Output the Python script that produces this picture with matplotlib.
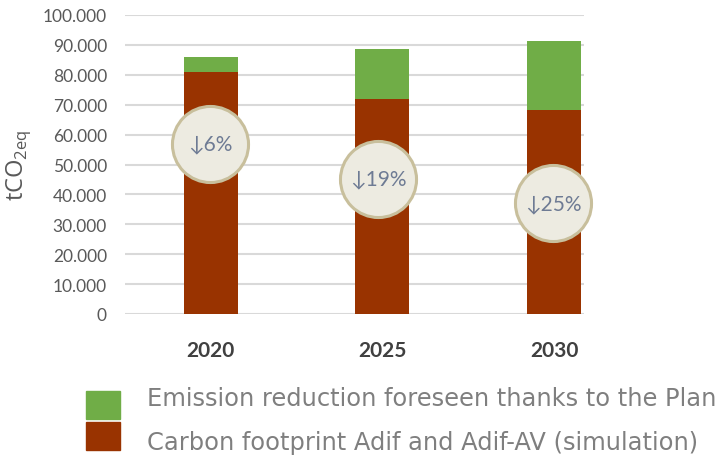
import numpy as np
import matplotlib
matplotlib.use('Agg')
import matplotlib.pyplot as plt
from matplotlib.patches import Rectangle
from matplotlib.ticker import FuncFormatter

# emissions in tCO2eq per year
years = ['2020', '2025', '2030']
footprint = [80800, 71800, 68300]
reduction = [5300, 16900, 23000]
reduction_pct = ['6%', '19%', '25%']
badge_y = [56900, 45200, 37100]
badge_shift = [-0.005, -0.025, -0.005]
legend_labels = ['Emission reduction foreseen thanks to the Plan',
                 'Carbon footprint Adif and Adif-AV (simulation)']

GREEN = '#70AD47'
BROWN = '#993300'
GRID = '#D9D9D9'
TICK = '#595959'

W, H = 720, 456


def thousands(v, pos):
    # spanish style thousands separator
    return '{:,.0f}'.format(v).replace(',', '.')


fig = plt.figure(figsize=(W / 100, H / 100), dpi=100)
ax = fig.add_axes([125 / W, 1 - 315 / H, 459 / W, 299 / H])

x = np.arange(len(years))
width = 0.315
ax.bar(x, footprint, width, color=BROWN, zorder=2)
ax.bar(x, reduction, width, bottom=footprint, color=GREEN, zorder=2)

# percentage badges
bx = x + np.array(badge_shift)
ax.scatter(bx, badge_y, s=3000, color='#EDEBE1', edgecolors='#C8BF9C',
           linewidths=2.2, zorder=3, clip_on=False)
for xi, yi, pct in zip(bx, badge_y, reduction_pct):
    ax.text(xi, yi, '\u2193' + pct, ha='center', va='center', fontsize=15,
            color='#6E7B94', family=['Lato', 'DejaVu Sans'], zorder=4)

ax.set_xlim(-0.5, 2.175)
ax.set_ylim(0, 100000)
ax.set_yticks(np.arange(0, 100001, 10000))
ax.yaxis.set_major_formatter(FuncFormatter(thousands))
ax.grid(axis='y', color=GRID, linewidth=1.5, zorder=0)
ax.set_axisbelow(True)
for s in ax.spines.values():
    s.set_visible(False)
ax.tick_params(axis='y', length=0, pad=13, labelsize=12.5, labelcolor=TICK)
ax.tick_params(axis='x', length=0, pad=19, labelsize=15, labelcolor='#404040')
for lab in ax.get_yticklabels():
    lab.set_family('Lato')
ax.set_xticks(x)
ax.set_xticklabels(years, family='Lato', fontweight='bold')

ax.set_ylabel('tCO$_\\mathregular{2eq}$', fontsize=17, color=TICK,
              family='Open Sans')
ax.yaxis.set_label_coords(-0.20, 0.5)

# legend: stacked swatches, text lines spaced a bit wider than the swatches
swatch_top = [392, 423]
text_mid = [397, 441]
for col, top, mid, label in zip([GREEN, BROWN], swatch_top, text_mid,
                                legend_labels):
    fig.patches.append(Rectangle((86 / W, 1 - (top + 28) / H), 34 / W, 28 / H,
                                 transform=fig.transFigure, color=col))
    fig.text(147 / W, 1 - mid / H, label, ha='left', va='center_baseline',
             fontsize=17.4, color='#7F7F7F', family='DejaVu Sans')

fig.savefig('out.png', dpi=100)
